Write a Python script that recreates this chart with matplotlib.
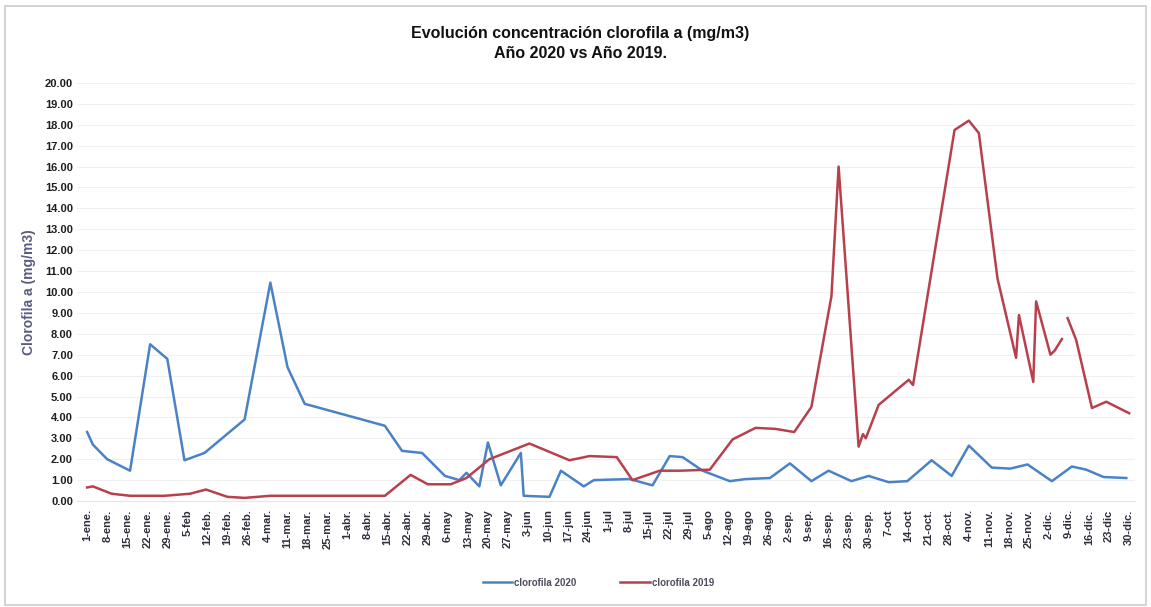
import numpy as np
import matplotlib.pyplot as plt
from matplotlib.patches import Rectangle

plt.rcParams['font.family'] = ['Liberation Sans', 'DejaVu Sans']

# dias desde el 1 de enero y concentracion (mg/m3)
dias_2020 = [0, 2, 7, 15, 22, 28, 34, 41, 55, 64, 70, 76, 104, 110, 117, 125,
             130, 132.5, 137, 140, 144.5, 151.5, 152.5, 161.5, 165.5, 173.5,
             177, 189.5, 197.5, 203.5, 208, 215, 224.5, 230, 238.5, 245.5, 253,
             259, 267, 273, 280, 286.5, 295, 302, 308, 316, 322.5, 328.5, 337,
             344, 349, 355, 363]
clorofila_2020 = [3.3, 2.7, 2.0, 1.45, 7.5, 6.8, 1.95, 2.3, 3.9, 10.45, 6.4,
                  4.65, 3.6, 2.4, 2.3, 1.2, 1.0, 1.35, 0.7, 2.8, 0.75, 2.3,
                  0.25, 0.2, 1.45, 0.7, 1.0, 1.05, 0.75, 2.15, 2.1, 1.45, 0.95,
                  1.05, 1.1, 1.8, 0.95, 1.45, 0.95, 1.2, 0.9, 0.95, 1.95, 1.2,
                  2.65, 1.6, 1.55, 1.75, 0.95, 1.65, 1.5, 1.15, 1.1]

dias_2019 = [0, 2, 8.5, 15, 27, 36, 41.5, 49, 55, 64, 104, 113, 119, 127,
             132.5, 140.5, 154.5, 168.5, 175.5, 185, 190.5, 200, 207, 217.5,
             225.5, 233.5, 240.5, 247, 253, 260, 262.5, 269.5, 271, 272, 276.5,
             287, 288.5, 303, 308, 311.5, 318, 324.5, 325.5, 330.5, 331.5,
             336.5, 338, 340.5, 341.5, 342.5, 345.5, 351, 356, 364]
clorofila_2019 = [0.65, 0.7, 0.35, 0.25, 0.25, 0.35, 0.55, 0.2, 0.15, 0.25,
                  0.25, 1.25, 0.8, 0.8, 1.1, 2.0, 2.75, 1.95, 2.15, 2.1, 1.0,
                  1.45, 1.45, 1.5, 2.95, 3.5, 3.45, 3.3, 4.5, 9.8, 16.0, 2.6,
                  3.2, 3.0, 4.6, 5.8, 5.55, 17.75, 18.2, 17.6, 10.65, 6.85,
                  8.9, 5.7, 9.55, 7.0, 7.2, 7.75, np.nan, 8.75, 7.7, 4.45,
                  4.75, 4.2]

etiquetas = ['1-ene.', '8-ene.', '15-ene.', '22-ene.', '29-ene.', '5-feb',
             '12-feb.', '19-feb.', '26-feb.', '4-mar.', '11-mar.', '18-mar.',
             '25-mar.', '1-abr.', '8-abr.', '15-abr.', '22-abr.', '29-abr.',
             '6-may', '13-may', '20-may', '27-may', '3-jun', '10-jun',
             '17-jun', '24-jun', '1-jul', '8-jul', '15-jul', '22-jul',
             '29-jul', '5-ago', '12-ago', '19-ago', '26-ago', '2-sep.',
             '9-sep.', '16-sep.', '23-sep.', '30-sep.', '7-oct', '14-oct',
             '21-oct.', '28-oct.', '4-nov.', '11-nov.', '18-nov.', '25-nov.',
             '2-dic.', '9-dic.', '16-dic.', '23-dic', '30-dic.']
dias_etiquetas = np.arange(len(etiquetas)) * 7

azul = '#4a82c6'
rojo = '#b8404c'
gris = '#4d4d5e'

fig = plt.figure(figsize=(11.51, 6.07), dpi=100)
ax = fig.add_axes([0.067, 0.1746, 0.919, 0.6887])

ax.plot(dias_2020, clorofila_2020, color=azul, lw=1.8, label='clorofila 2020')
ax.plot(dias_2019, clorofila_2019, color=rojo, lw=1.8, label='clorofila 2019')

ax.set_xlim(-3.5, 366)
ax.set_ylim(0, 20)
ax.set_yticks(np.arange(0, 21, 1))
ax.set_yticklabels(['%.2f' % v for v in np.arange(0, 21, 1)],
                   fontsize=8, fontweight='bold', color='#1e1e1e')
ax.set_xticks(dias_etiquetas)
ax.set_xticklabels(etiquetas, rotation=90, fontsize=8, fontweight='bold',
                   color='#2e2e3c')
ax.tick_params(axis='y', length=0, pad=3)
ax.tick_params(axis='x', length=0, pad=6)
ax.grid(axis='y', color='#f0f0f0', lw=0.8)
for s in ['top', 'right', 'left']:
    ax.spines[s].set_visible(False)
ax.spines['bottom'].set_color('#e6e6e6')

ax.set_ylabel('Clorofila a (mg/m3)', fontsize=10, fontweight='bold',
              color='#5b5b80', labelpad=6)

fig.text(0.504, 0.945, 'Evolución concentración clorofila a (mg/m3)',
         ha='center', va='center', fontsize=11.5, fontweight='bold',
         color='#111111')
fig.text(0.504, 0.912, 'Año 2020 vs Año 2019.', ha='center', va='center',
         fontsize=11.5, fontweight='bold', color='#111111')

leg = fig.legend(loc='center', bbox_to_anchor=(0.52, 0.04), ncol=2,
                 frameon=False, handlelength=3, handletextpad=0.2,
                 columnspacing=4.5, prop={'weight': 'bold', 'size': 7})
for t in leg.get_texts():
    t.set_color(gris)

fig.patches.append(Rectangle((0.004, 0.004), 0.992, 0.986,
                             transform=fig.transFigure, fill=False,
                             edgecolor='#cccccc', lw=1.2))

fig.savefig('out.png', dpi=100, facecolor='white')
